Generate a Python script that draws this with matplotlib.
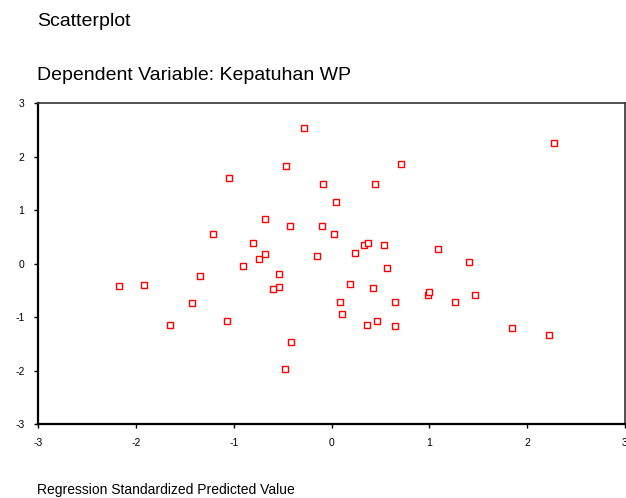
import matplotlib
matplotlib.use("Agg")
import matplotlib.pyplot as plt

plt.rcParams['font.family'] = ['Liberation Sans', 'DejaVu Sans']

pred = [-2.17, -1.92, -1.65, -1.43, -1.35, -1.07, -0.91, -0.74, -0.68, -0.54,
        -0.54, -0.60, -0.42, -0.48, -0.15, -0.28, -0.47, -1.05, -0.68, -0.43,
        -1.21, -0.80, 2.27, 0.71, -0.09, 0.44, 0.04, -0.10, 0.02, 0.33,
        0.37, 0.54, 1.09, 1.40, 0.24, 0.57, 0.19, 0.42, 0.09, 0.11,
        0.65, 0.99, 1.00, 1.26, 1.47, 0.36, 0.46, 0.65, 1.84, 2.22]
resid = [-0.42, -0.40, -1.15, -0.74, -0.22, -1.07, -0.04, 0.09, 0.19, -0.20,
         -0.43, -0.48, -1.46, -1.97, 0.14, 2.54, 1.82, 1.61, 0.84, 0.71,
         0.55, 0.39, 2.25, 1.87, 1.49, 1.49, 1.15, 0.71, 0.56, 0.35,
         0.39, 0.35, 0.27, 0.04, 0.20, -0.08, -0.38, -0.45, -0.71, -0.94,
         -0.71, -0.58, -0.53, -0.71, -0.58, -1.15, -1.07, -1.17, -1.20, -1.33]

xticks = [-3, -2, -1, 0, 1, 2, 3]
yticks = [-3, -2, -1, 0, 1, 2, 3]

W, H = 626, 498
fig = plt.figure(figsize=(W / 100, H / 100), dpi=100)
ax = fig.add_axes([38.3 / W, 1 - 424.3 / H, (625 - 38.3) / W, (424.3 - 103.3) / H])

ax.plot(pred, resid, linestyle='none', marker='s', markersize=5,
        markerfacecolor='white', markeredgecolor='#ff0000', markeredgewidth=1.0,
        clip_on=False)

ax.set_xlim(-3, 3)
ax.set_ylim(-3, 3)
ax.set_xticks(xticks)
ax.set_yticks(yticks)
ax.set_xticklabels([str(t) for t in xticks])
ax.set_yticklabels([str(t) for t in yticks])
ax.tick_params(direction='out', length=3, width=1.0, labelsize=7.5, colors='black', pad=7)

for s in ['left', 'bottom']:
    ax.spines[s].set_linewidth(1.6)
    ax.spines[s].set_color('black')
for s in ['top', 'right']:
    ax.spines[s].set_linewidth(1.2)
    ax.spines[s].set_color('#333333')

fig.text(37 / W, 1 - 21 / H, 'Scatterplot', fontsize=14, ha='left', va='center')
fig.text(37 / W, 1 - 75 / H, 'Dependent Variable: Kepatuhan WP', fontsize=14, ha='left', va='center')
fig.text(37 / W, 1 - 490 / H, 'Regression Standardized Predicted Value', fontsize=10, ha='left', va='center')

fig.savefig('out.png', dpi=100)
